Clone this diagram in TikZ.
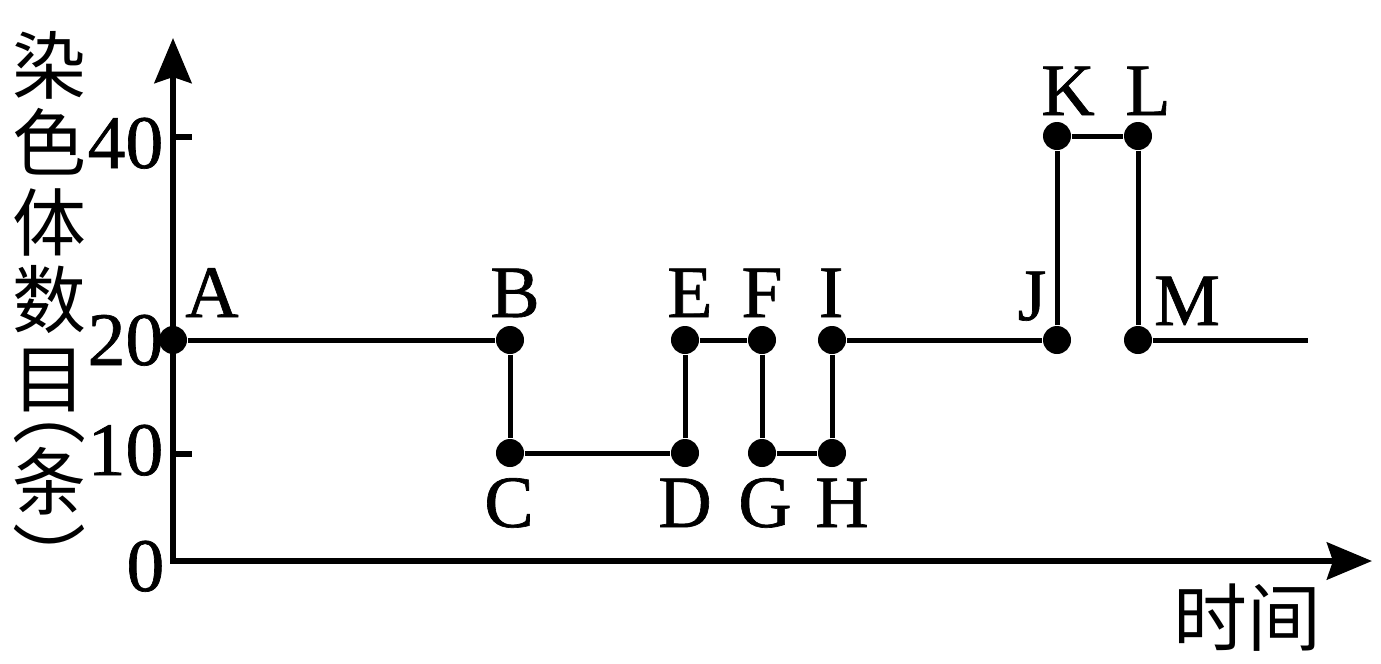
\documentclass[tikz,border=0pt]{standalone}
\usepackage{fontspec}
\setmainfont{Liberation Serif}
\newfontfamily\heavy{Liberation Serif}[FakeBold=0.9]
\newfontfamily\cjk{Noto Sans CJK SC}
\usetikzlibrary{arrows.meta}
\tikzset{
  axis/.style={line width=0.06cm, {Stealth[length=0.45cm,width=0.37cm,inset=0.06cm]}-{Stealth[length=0.45cm,width=0.37cm,inset=0.06cm]}},
  tick/.style={line width=0.06cm},
  curve/.style={line width=0.05cm},
  dot/.style={circle, fill=black, draw=none, minimum size=0.28cm, inner sep=0pt},
  lbl/.style={anchor=base, inner sep=0pt, font=\heavy\fontsize{21}{24}\selectfont},
  num/.style={anchor=base east, inner sep=0pt, font=\heavy\fontsize{21.5}{24}\selectfont},
  zh/.style={inner sep=0pt, font=\cjk\fontsize{21}{24}\selectfont}
}
\begin{document}
\begin{tikzpicture}[x=0.01cm,y=-0.01cm]
\useasboundingbox (0,0) rectangle (1381,663);
% axes
\coordinate (O) at (173,561);
\coordinate (Ytip) at (173,38);
\coordinate (Xtip) at (1372,561);
\draw[axis] (Ytip) -- (O) -- (Xtip);
% ticks
\coordinate (t40a) at (173,137); \coordinate (t40b) at (192,137);
\coordinate (t10a) at (173,454); \coordinate (t10b) at (192,454);
\draw[tick] (t40a) -- (t40b);
\draw[tick] (t10a) -- (t10b);
% tick labels
\node[num] (n40) at (164,168) {40};
\node[num] (n20) at (164,365) {20};
\node[num] (n10) at (164,475) {10};
\node[num] (n0) at (165,591) {0};
% axis titles
\node[zh] (z1) at (49,65) {染};
\node[zh] (z2) at (49,142) {色};
\node[zh] (z3) at (49,222) {体};
\node[zh] (z4) at (49,300) {数};
\node[zh] (z5) at (49,380) {目};
\node[zh] (z6) at (49,433) {︵};
\node[zh] (z7) at (49,481) {条};
\node[zh] (z8) at (49,556) {︶};
\node[zh] (tx) at (1247,618) {时间};
% points
\node[dot] (A) at (173,340) {};
\node[dot] (B) at (510,340) {};
\node[dot] (C) at (510,453) {};
\node[dot] (D) at (685,453) {};
\node[dot] (E) at (685,340) {};
\node[dot] (F) at (762,340) {};
\node[dot] (G) at (762,453) {};
\node[dot] (H) at (832,453) {};
\node[dot] (I) at (832,340) {};
\node[dot] (J) at (1057,340) {};
\node[dot] (K) at (1057,136) {};
\node[dot] (L) at (1138,136) {};
\node[dot] (M) at (1138,340) {};
\coordinate (End) at (1308,340);
\draw[curve] (A) -- (B);
\draw[curve] (B) -- (C);
\draw[curve] (C) -- (D);
\draw[curve] (D) -- (E);
\draw[curve] (E) -- (F);
\draw[curve] (F) -- (G);
\draw[curve] (G) -- (H);
\draw[curve] (H) -- (I);
\draw[curve] (I) -- (J);
\draw[curve] (J) -- (K);
\draw[curve] (K) -- (L);
\draw[curve] (L) -- (M);
\draw[curve] (M) -- (End);
% point labels
\node[lbl] (lA) at (212,317) {A};
\node[lbl] (lB) at (515,317) {B};
\node[lbl] (lC) at (509,527) {C};
\node[lbl] (lD) at (685,527) {D};
\node[lbl] (lE) at (690,317) {E};
\node[lbl] (lF) at (762,317) {F};
\node[lbl] (lG) at (765,527) {G};
\node[lbl] (lH) at (842,527) {H};
\node[lbl] (lI) at (831,317) {I};
\node[lbl] (lJ) at (1032,320) {J};
\node[lbl] (lK) at (1068,115) {K};
\node[lbl] (lL) at (1148,115) {L};
\node[lbl] (lM) at (1187,325) {M};
\end{tikzpicture}
\end{document}
